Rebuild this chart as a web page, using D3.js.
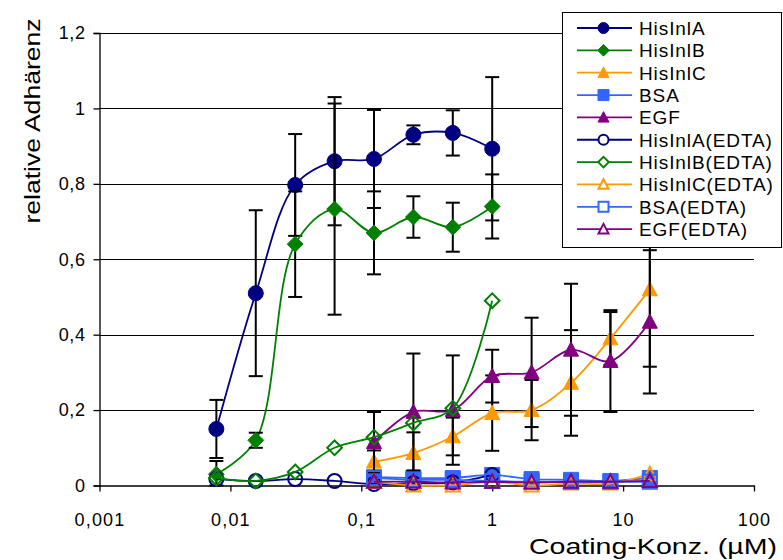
<!DOCTYPE html>
<html><head><meta charset="utf-8">
<script src="https://cdn.jsdelivr.net/npm/d3@7"></script>
<style>
body{margin:0;background:#fff;}
svg text{font-family:Arial,"Liberation Sans",sans-serif;fill:#000;}
</style></head>
<body><svg id="c" width="783" height="560"></svg>
<script>
// ---- data ----
const concA = [0.0078125,0.015625,0.03125,0.0625,0.125,0.25,0.5,1];
const concC = [0.125,0.25,0.5,1,2,4,8,16];
const hisInlA = [0.15,0.51,0.797,0.86,0.866,0.93,0.935,0.893];
const hisInlAErr = [0.077,0.22,0.135,0.17,0.13,0.025,0.06,0.19];
const hisInlB = [0.03,0.12,0.64,0.733,0.67,0.712,0.685,0.74];
const hisInlBErr = [0.035,0.02,0.14,0.28,0.11,0.055,0.065,0.085];
const hisInlC = [0.063,0.086,0.13,0.192,0.2,0.272,0.39,0.52];
const hisInlCErr = [0.03,0.055,0.05,0.1,0.08,0.14,0.07,0.205];
const bsa = [0.022,0.02,0.02,0.028,0.017,0.015,0.012,0.02];
const egf = [0.115,0.195,0.2,0.29,0.30,0.36,0.33,0.434];
const egfErr = [0.08,0.155,0.145,0.07,0.145,0.175,0.135,0.19];
const hisInlAEdta = [0.017,0.012,0.017,0.012,0.004,0.006,0.008,0.028];
const hisInlBEdta = [0.02,0.012,0.036,0.1,0.128,0.166,0.205,0.49];
const hisInlCEdta = [0.01,0.0,0.0,0.01,0.0,0.005,0.005,0.03];
const bsaEdta = [0.02,0.015,0.015,0.012,0.01,0.01,0.01,0.01];
const egfEdta = [0.01,0.01,0.008,0.01,0.008,0.01,0.01,0.012];
const seriesNames = ["HisInlA","HisInlB","HisInlC","BSA","EGF","HisInlA(EDTA)","HisInlB(EDTA)","HisInlC(EDTA)","BSA(EDTA)","EGF(EDTA)"];
const xTicks = [0.001,0.01,0.1,1,10,100];
const yTicks = [0,0.2,0.4,0.6,0.8,1,1.2];

const series = [
  {name:seriesNames[0], x:concA, y:hisInlA, e:hisInlAErr, color:"#000080", shape:"circle", fill:true},
  {name:seriesNames[1], x:concA, y:hisInlB, e:hisInlBErr, color:"#008000", shape:"diamond", fill:true},
  {name:seriesNames[2], x:concC, y:hisInlC, e:hisInlCErr, color:"#FF9900", shape:"triangle", fill:true},
  {name:seriesNames[3], x:concC, y:bsa, e:null, color:"#3366FF", shape:"square", fill:true},
  {name:seriesNames[4], x:concC, y:egf, e:egfErr, color:"#800080", shape:"triangle", fill:true},
  {name:seriesNames[5], x:concA, y:hisInlAEdta, e:null, color:"#000080", shape:"circle", fill:false},
  {name:seriesNames[6], x:concA, y:hisInlBEdta, e:null, color:"#008000", shape:"diamond", fill:false},
  {name:seriesNames[7], x:concC, y:hisInlCEdta, e:null, color:"#FF9900", shape:"triangle", fill:false},
  {name:seriesNames[8], x:concC, y:bsaEdta, e:null, color:"#3366FF", shape:"square", fill:false},
  {name:seriesNames[9], x:concC, y:egfEdta, e:null, color:"#800080", shape:"triangle", fill:false}
];

const svg = d3.select("#c");
const x = d3.scaleLog().domain([0.001,100]).range([99.5,754]);
const y = d3.scaleLinear().domain([0,1.2]).range([485.5,33]);
const loc = d3.formatLocale({decimal:",",thousands:".",grouping:[3],currency:["","€"]});
const fmt = loc.format("~g");

// gridlines
svg.append("g").selectAll("line").data(yTicks.slice(1)).join("line")
  .attr("x1",x(0.001)).attr("x2",x(100))
  .attr("y1",d=>Math.round(y(d))+0.5).attr("y2",d=>Math.round(y(d))+0.5)
  .attr("stroke","#000").attr("stroke-width",1);

// axes
const yAx = svg.append("g").attr("transform",`translate(${x(0.001)},0)`)
  .call(d3.axisLeft(y).tickValues(yTicks).tickFormat(fmt).tickSize(6).tickPadding(8));
const xAx = svg.append("g").attr("transform",`translate(0,${y(0)})`)
  .call(d3.axisBottom(x).tickValues(xTicks).tickFormat(fmt).tickSize(6).tickSizeOuter(0).tickPadding(22));
[yAx,xAx].forEach(g=>{
  g.select(".domain").attr("stroke","#000").attr("stroke-width",1.3);
  g.selectAll(".tick line").attr("stroke","#000").attr("stroke-width",1.3);
  g.selectAll("text").attr("font-size",18).attr("font-family","Arial,'Liberation Sans',sans-serif").attr("fill","#000");
});
xAx.selectAll("text").attr("letter-spacing",1.2);
yAx.selectAll("text").attr("letter-spacing",0.6);

// axis titles
svg.append("text").attr("transform","translate(40,121) rotate(-90)")
  .attr("text-anchor","middle").attr("font-size",22)
  .attr("textLength",205).attr("lengthAdjust","spacingAndGlyphs")
  .text("relative Adhärenz");
svg.append("text").attr("x",777).attr("y",554).attr("text-anchor","end")
  .attr("font-size",22).attr("textLength",248).attr("lengthAdjust","spacingAndGlyphs")
  .text("Coating-Konz. (µM)");

// marker path generator
function markerPath(shape,s){
  switch(shape){
    case "circle": return d3.symbol(d3.symbolCircle, Math.PI*s*s/4)();
    case "square": { const h=s/2; return `M${-h},${-h}H${h}V${h}H${-h}Z`; }
    case "diamond": { const h=s/2*1.05; return `M0,${-h}L${h},0L0,${h}L${-h},0Z`; }
    case "triangle": { const h=s/2; return `M0,${-h*1.05}L${h},${h*0.85}L${-h},${h*0.85}Z`; }
  }
}
const line = d3.line().curve(d3.curveCatmullRom.alpha(0.5));
const cap = 7;

series.forEach(s=>{
  const g = svg.append("g");
  const pts = s.x.map((c,i)=>[x(c),y(s.y[i])]);
  g.append("path").attr("d",line(pts)).attr("fill","none")
    .attr("stroke",s.color).attr("stroke-width",1.8);
  if(s.e){
    const eb = g.append("g").attr("stroke","#000").attr("stroke-width",2);
    s.x.forEach((c,i)=>{
      const cx=x(c), y1=y(s.y[i]+s.e[i]), y2=y(Math.max(0,s.y[i]-s.e[i]));
      eb.append("line").attr("x1",cx).attr("x2",cx).attr("y1",y1).attr("y2",y2);
      eb.append("line").attr("x1",cx-cap).attr("x2",cx+cap).attr("y1",y1).attr("y2",y1);
      eb.append("line").attr("x1",cx-cap).attr("x2",cx+cap).attr("y1",y2).attr("y2",y2);
    });
  }
  g.selectAll("path.m").data(pts).join("path").attr("class","m")
    .attr("transform",d=>`translate(${d[0]},${d[1]})`)
    .attr("d",markerPath(s.shape, s.fill?15:14))
    .attr("fill",s.fill?s.color:"none")
    .attr("stroke",s.color).attr("stroke-width",s.fill?1:2);
});

// legend
const lg = svg.append("g");
lg.append("rect").attr("x",562.5).attr("y",12.5).attr("width",219).attr("height",235)
  .attr("fill","#fff").attr("stroke","#000").attr("stroke-width",1);
series.forEach((s,i)=>{
  const cy = 28 + i*22.35;
  lg.append("line").attr("x1",577).attr("x2",632).attr("y1",cy).attr("y2",cy)
    .attr("stroke",s.color).attr("stroke-width",1.8);
  lg.append("path").attr("transform",`translate(603.5,${cy})`)
    .attr("d",markerPath(s.shape,s.fill?11:10))
    .attr("fill",s.fill?s.color:"#fff").attr("stroke",s.color).attr("stroke-width",s.fill?1:2);
  lg.append("text").attr("x",639).attr("y",cy).attr("dy","0.36em")
    .attr("font-size",19).attr("letter-spacing",0.9).text(s.name);
});
</script></body></html>
